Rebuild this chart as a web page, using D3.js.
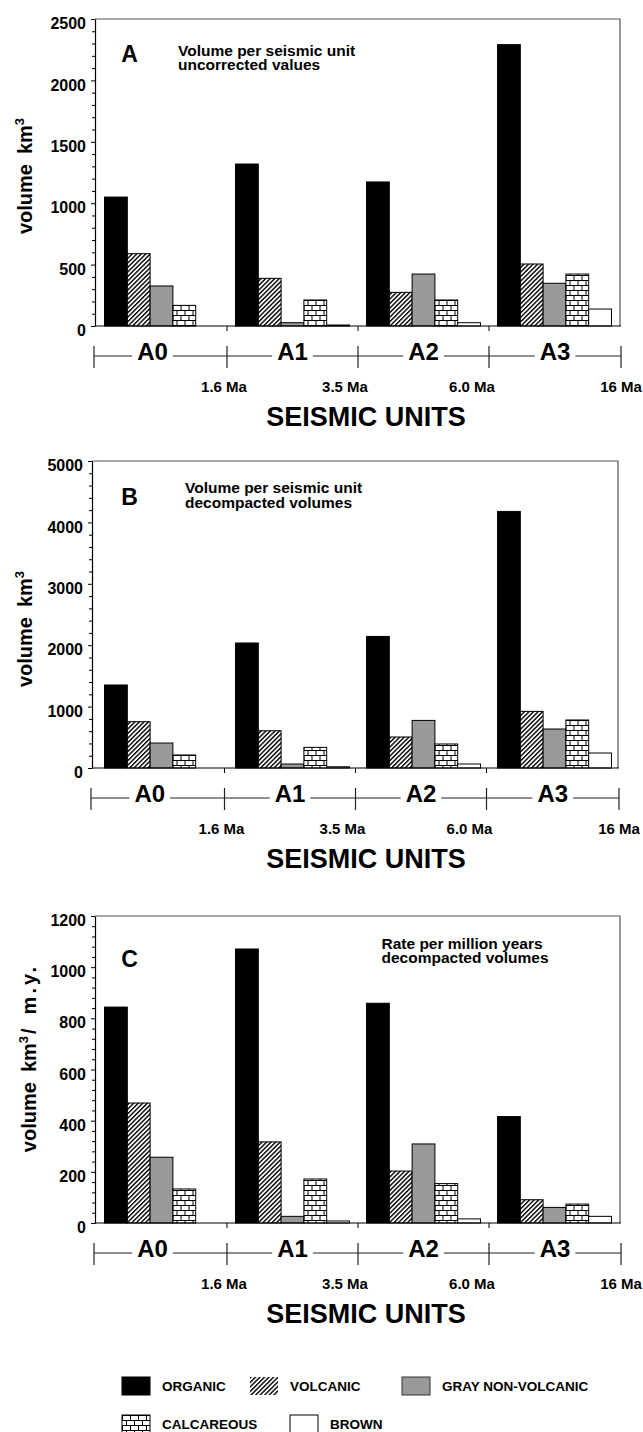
<!DOCTYPE html>
<html>
<head>
<meta charset="utf-8">
<script src="https://cdn.jsdelivr.net/npm/d3@7"></script>
<style>
  body { margin: 0; background: #fff; }
  svg { display: block; font-family: "Liberation Sans", Arial, Helvetica, sans-serif; font-weight: bold; }
</style>
</head>
<body>
<script>
(function () {

var units = ['A0', 'A1', 'A2', 'A3']
var series = ['ORGANIC', 'VOLCANIC', 'GRAY NON-VOLCANIC', 'CALCAREOUS', 'BROWN']
var ages = ['1.6 Ma', '3.5 Ma', '6.0 Ma', '16 Ma']

// A - volume per seismic unit, uncorrected (km3)
var organicA = [1050, 1319, 1173, 2291]
var volcanicA = [589, 388, 274, 505]
var grayA = [326, 27, 423, 348]
var calcA = [168, 212, 212, 423]
var brownA = [0, 8, 27, 138]

// B - volume per seismic unit, decompacted (km3)
var organicB = [1352, 2036, 2143, 4179]
var volcanicB = [754, 607, 505, 922]
var grayB = [407, 65, 775, 635]
var calcB = [212, 336, 391, 782]
var brownB = [0, 20, 65, 244]

// C - rate per million years, decompacted (km3/m.y.)
var organicC = [844, 1071, 859, 416]
var volcanicC = [469, 317, 203, 91]
var grayC = [257, 26, 309, 61]
var calcC = [133, 172, 154, 74]
var brownC = [0, 8, 16, 26]

var width = 643,
height = 1432,
plotH = 307

var fills = ['#000', 'url(#hatch)', '#999', 'url(#brick)', '#fff']

var panels = [
  { letter: 'A', values: [organicA, volcanicA, grayA, calcA, brownA], max: 2500, major: 500, minor: 100,
    note: ['Volume per seismic unit', 'uncorrected values'], rate: false,
    top: 19, left: 95, right: 620, shift: 0, letterY: 43, noteX: 178, noteY: 36.5, labelX: 32, labelY: 157 },
  { letter: 'B', values: [organicB, volcanicB, grayB, calcB, brownB], max: 5000, major: 1000, minor: 200,
    note: ['Volume per seismic unit', 'decompacted volumes'], rate: false,
    top: 461, left: 92, right: 618, shift: -2.5, letterY: 44, noteX: 185, noteY: 32, labelX: 32, labelY: 168 },
  { letter: 'C', values: [organicC, volcanicC, grayC, calcC, brownC], max: 1200, major: 200, minor: 40,
    note: ['Rate per million years', 'decompacted volumes'], rate: true,
    top: 916, left: 95, right: 620, shift: 0, letterY: 50.5, noteX: 381.5, noteY: 32.5, labelX: 36, labelY: 142 }
]

var svg = d3.select('body')
  .append('svg')
  .attr('width', width)
  .attr('height', height)

var defs = svg.append('defs')

var hatch = defs.append('pattern')
  .attr('id', 'hatch')
  .attr('patternUnits', 'userSpaceOnUse')
  .attr('width', 3.2)
  .attr('height', 3.2)
  .attr('patternTransform', 'rotate(45)')
hatch.append('rect').attr('width', 3.2).attr('height', 3.2).attr('fill', '#fff')
hatch.append('line')
  .attr('x1', 0.7).attr('x2', 0.7).attr('y1', 0).attr('y2', 3.2)
  .attr('stroke', '#000').attr('stroke-width', 1.4)

var brick = defs.append('pattern')
  .attr('id', 'brick')
  .attr('patternUnits', 'userSpaceOnUse')
  .attr('width', 8)
  .attr('height', 10)
brick.append('rect').attr('width', 8).attr('height', 10).attr('fill', '#fff')
brick.append('path')
  .attr('d', 'M0,0.5H8M0,5.5H8M0.5,0V5.5M4.5,5.5V10')
  .attr('stroke', '#000')
  .attr('stroke-width', 1)
  .attr('fill', 'none')

// unit groups share the same x positions in every panel
var xUnit = d3.scaleBand().domain(units).range([96, 620]).paddingInner(0.13).paddingOuter(0.065)
var xSeries = d3.scaleBand().domain(series).range([0, xUnit.bandwidth()])
var gapHalf = xUnit.step() * xUnit.paddingInner() / 2

panels.forEach(function (p) {
  var zero = p.top + plotH
  var y = d3.scaleLinear().domain([0, p.max]).range([zero, p.top])
  var g = svg.append('g')

  // frame: top and right in gray
  g.append('path')
    .attr('d', 'M' + p.left + ',' + p.top + 'H' + p.right + 'V' + zero)
    .attr('fill', 'none')
    .attr('stroke', '#555')
    .attr('stroke-width', 1.2)

  var majors = d3.range(0, p.max + 1, p.major)
  var minors = d3.range(0, p.max + 1, p.minor).filter(function (v) {
    return majors.indexOf(v) < 0
  })

  var minorAxis = g.append('g')
    .attr('transform', 'translate(' + p.left + ',0)')
    .call(d3.axisLeft(y).tickValues(minors).tickSize(3).tickSizeOuter(0).tickFormat(''))
  minorAxis.select('.domain').remove()

  var yAxis = g.append('g')
    .attr('transform', 'translate(' + p.left + ',0)')
    .call(d3.axisLeft(y).tickValues(majors).tickSize(4).tickSizeOuter(0).tickPadding(5).tickFormat(d3.format('d')))
    .attr('font-family', null)
    .attr('font-size', 16)
  yAxis.selectAll('text')
    .attr('dy', '0.6em')
    .attr('fill', '#000')
  yAxis.select('.domain').attr('stroke-width', 1.2)

  // bars
  var groups = g.selectAll('.unit')
    .data(units)
    .enter().append('g')
    .attr('class', 'unit')
    .attr('transform', function (d) { return 'translate(' + xUnit(d) + ',0)' })

  groups.selectAll('rect')
    .data(function (u, i) {
      return series.map(function (s, j) { return { s: s, v: p.values[j][i], j: j } })
    })
    .enter().append('rect')
    .attr('x', function (d) { return xSeries(d.s) })
    .attr('y', function (d) { return y(d.v) })
    .attr('width', xSeries.bandwidth())
    .attr('height', function (d) { return zero - y(d.v) })
    .attr('fill', function (d) { return fills[d.j] })
    .attr('stroke', '#000')
    .attr('stroke-width', 1)

  // baseline and unit boundary ticks
  g.append('line')
    .attr('x1', p.left).attr('x2', p.right + 1)
    .attr('y1', zero).attr('y2', zero)
    .attr('stroke', '#000').attr('stroke-width', 1.2)

  var inner = units.slice(1).map(function (u) { return xUnit(u) - gapHalf + p.shift })
  g.selectAll('.xtick')
    .data(inner)
    .enter().append('line')
    .attr('x1', function (d) { return d }).attr('x2', function (d) { return d })
    .attr('y1', zero).attr('y2', zero + 5)
    .attr('stroke', '#000')

  // seismic unit bracket
  var bounds = [p.left - 1].concat(inner, [p.right + 1])
  var by = zero + 30
  g.append('line')
    .attr('x1', bounds[0]).attr('x2', bounds[4])
    .attr('y1', by).attr('y2', by)
    .attr('stroke', '#222')
  g.selectAll('.btick')
    .data(bounds)
    .enter().append('line')
    .attr('x1', function (d) { return d }).attr('x2', function (d) { return d })
    .attr('y1', by - 10).attr('y2', by + 12)
    .attr('stroke', '#222')
    .attr('stroke-width', 1.2)

  units.forEach(function (u, i) {
    var cx = (bounds[i] + bounds[i + 1]) / 2 + (i === 0 ? -8 : 0)
    var bg = g.append('rect').attr('fill', '#fff')
    var t = g.append('text')
      .attr('x', cx)
      .attr('y', by + 4)
      .attr('text-anchor', 'middle')
      .attr('font-size', 24)
      .text(u)
    var b = t.node().getBBox()
    bg.attr('x', b.x - 5).attr('y', by - 2).attr('width', b.width + 10).attr('height', 4)
  })

  var ageShift = [-3, -13, -17, 0]
  g.selectAll('.age')
    .data(ages)
    .enter().append('text')
    .attr('x', function (d, i) { return bounds[i + 1] + ageShift[i] })
    .attr('y', zero + 66)
    .attr('text-anchor', 'middle')
    .attr('font-size', 15)
    .text(function (d) { return d })

  g.append('text')
    .attr('x', 366)
    .attr('y', zero + 100)
    .attr('text-anchor', 'middle')
    .attr('font-size', 27)
    .text('SEISMIC UNITS')

  // panel letter and note
  g.append('text')
    .attr('x', 129.5)
    .attr('y', p.top + p.letterY)
    .attr('text-anchor', 'middle')
    .attr('font-size', 23)
    .text(p.letter)

  g.selectAll('.note')
    .data(p.note)
    .enter().append('text')
    .attr('x', p.noteX)
    .attr('y', function (d, i) { return p.top + p.noteY + i * 14.5 })
    .attr('font-size', 15.5)
    .text(function (d) { return d })

  // y axis title
  var lab = g.append('text')
    .attr('transform', 'translate(' + p.labelX + ',' + (p.top + p.labelY) + ') rotate(-90)')
    .attr('text-anchor', 'middle')
    .attr('font-size', 20)
  lab.append('tspan').text('volume')
  lab.append('tspan').attr('dx', 10).text('km')
  lab.append('tspan').attr('font-size', 13).attr('dy', -8).text('3')
  if (p.rate) {
    lab.append('tspan').attr('dy', 8).attr('dx', 2).text('/')
    lab.append('tspan').attr('dx', 14).attr('letter-spacing', 3).text('m.y.')
  }
})

// legend
var legendSlots = [[122, 1377], [250, 1377], [402, 1377], [122, 1415], [290, 1415]]

var legend = svg.selectAll('.legend')
  .data(series)
  .enter().append('g')
  .attr('class', 'legend')
  .attr('transform', function (d, i) { return 'translate(' + legendSlots[i][0] + ' ' + legendSlots[i][1] + ')' })

legend.append('rect')
  .attr('width', 28)
  .attr('height', 18)
  .attr('fill', function (d, i) { return fills[i] })
  .attr('stroke', function (d, i) { return i === 1 ? 'none' : (i === 2 ? '#333' : '#000') })
  .attr('stroke-width', 1)

legend.append('text')
  .attr('x', 40)
  .attr('y', 14)
  .attr('font-size', 13.5)
  .text(function (d) { return d })

}())
</script>
</body>
</html>
